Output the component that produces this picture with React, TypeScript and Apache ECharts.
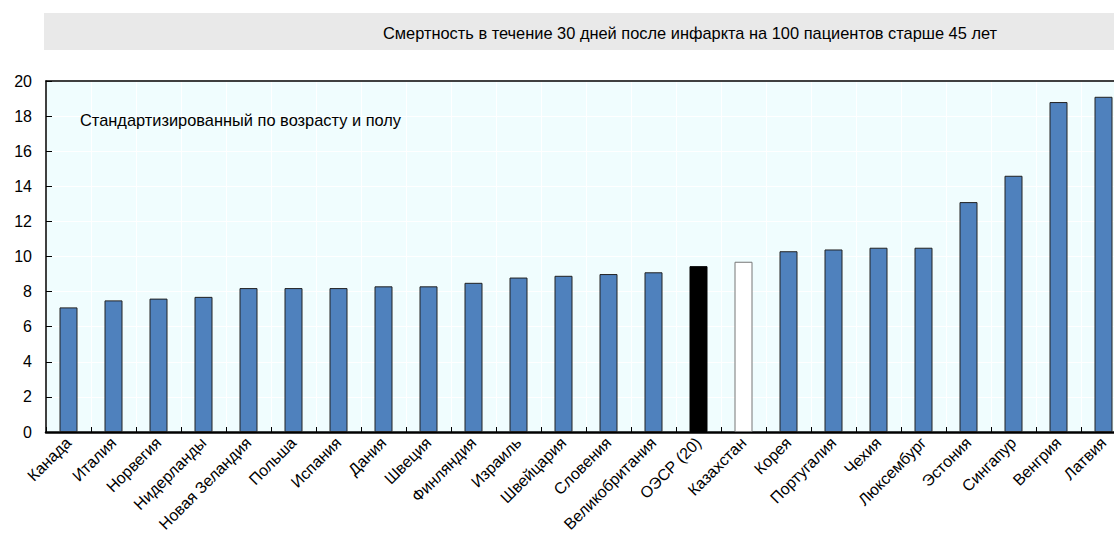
import React, { useEffect, useRef } from "react";
import * as echarts from "echarts";

const categories = [
  "Канада", "Италия", "Норвегия", "Нидерланды", "Новая Зеландия", "Польша", "Испания", "Дания",
  "Швеция", "Финляндия", "Израиль", "Швейцария", "Словения", "Великобритания", "ОЭСР (20)",
  "Казахстан", "Корея", "Португалия", "Чехия", "Люксембург", "Эстония", "Сингапур", "Венгрия", "Латвия",
];
const values = [
  7.1, 7.5, 7.6, 7.7, 8.2, 8.2, 8.2, 8.3, 8.3, 8.5, 8.8, 8.9, 9.0, 9.1, 9.45, 9.7,
  10.3, 10.4, 10.5, 10.5, 13.1, 14.6, 18.8, 19.1,
];
const yTicks = [0, 2, 4, 6, 8, 10, 12, 14, 16, 18, 20];
const titleText = "Смертность в течение 30 дней после инфаркта на 100 пациентов старше 45 лет";
const noteText = "Стандартизированный по возрасту и полу";

const FONT = "'Liberation Sans', Arial, sans-serif";

export default function App() {
  const ref = useRef<HTMLDivElement>(null);
  useEffect(() => {
    if (!ref.current) return;
    const chart = echarts.init(ref.current, null, { renderer: "svg" });
    const data = values.map((v, i) => {
      const name = categories[i];
      let itemStyle: any = { color: "#4f81bd", borderColor: "#222", borderWidth: 1 };
      if (name === "ОЭСР (20)") itemStyle = { color: "#000000", borderColor: "#000", borderWidth: 1 };
      if (name === "Казахстан") itemStyle = { color: "#ffffff", borderColor: "#777", borderWidth: 1 };
      return { value: v, itemStyle };
    });
    chart.setOption({
      animation: false,
      textStyle: { fontFamily: FONT },
      grid: {
        left: 46, width: 1080, top: 81, bottom: 104,
        outerBoundsMode: "none",
        containLabel: false,
        show: true, backgroundColor: "#f0fdfe", borderWidth: 0,
      },
      graphic: [
        { type: "rect", shape: { x: 44, y: 13, width: 1070, height: 37 }, style: { fill: "#e9e9e9" }, silent: true },
        {
          type: "text", x: 690, y: 33,
          style: { text: titleText, fontFamily: FONT, fontSize: 16.4, fill: "#000", align: "center", verticalAlign: "middle" },
        },
        {
          type: "text", x: 80, y: 120,
          style: { text: noteText, fontFamily: FONT, fontSize: 16.4, fill: "#000", align: "left", verticalAlign: "middle" },
          z: 10,
        },
      ],
      xAxis: [
        {
          type: "category",
          data: categories,
          axisLine: { show: true, lineStyle: { color: "#000", width: 2.5 } },
          axisTick: { show: true, inside: true, length: 5, alignWithLabel: false, lineStyle: { color: "#000" } },
          splitLine: { show: true, lineStyle: { color: "#ffffff", width: 1 } },
          axisLabel: {
            interval: 0, rotate: 45, fontFamily: FONT, fontSize: 16, color: "#000", margin: 8,
          },
        },
        {
          type: "category",
          position: "top",
          data: categories,
          axisLine: { show: true, lineStyle: { color: "#000", width: 1.5 } },
          axisTick: { show: false },
          axisLabel: { show: false },
          splitLine: { show: false },
        },
      ],
      yAxis: {
        type: "value",
        min: 0, max: 20, interval: 2,
        axisLine: { show: true, lineStyle: { color: "#000", width: 1.5 } },
        axisTick: { show: true, inside: true, length: 6, lineStyle: { color: "#000" } },
        splitLine: { show: true, lineStyle: { color: "#ffffff", width: 1 } },
        axisLabel: {
          fontFamily: FONT, fontSize: 16, color: "#000", margin: 14,
          formatter: (v: number) => (yTicks.includes(v) ? String(v) : ""),
        },
      },
      series: [
        {
          type: "bar",
          data,
          barWidth: "40%",
          xAxisIndex: 0,
        },
      ],
    });
    return () => chart.dispose();
  }, []);
  return (
    <div
      ref={ref}
      style={{ position: "absolute", left: 0, top: 0, width: 1114, height: 536, background: "#fff" }}
    />
  );
}
